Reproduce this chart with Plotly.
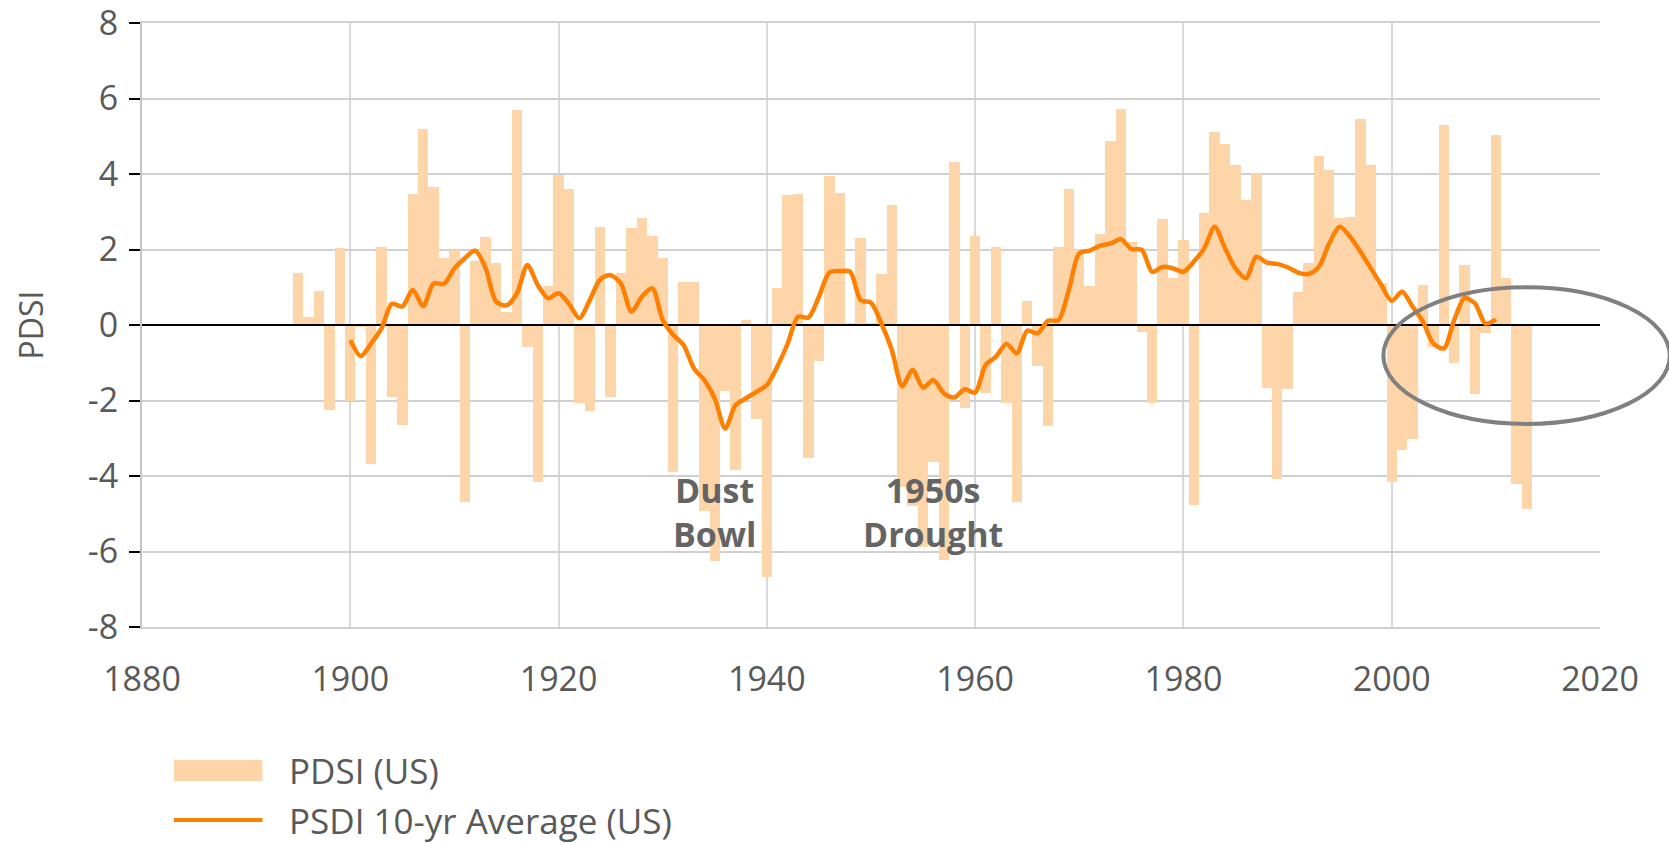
import plotly.graph_objects as go

# Anos e valores anuais do PDSI (EUA)
years = list(range(1895, 2014))
pdsi = [
    1.39, 0.21, 0.90, -2.24, 2.03,                                   # 1895-1899
    -2.00, -0.05, -3.67, 2.07, -1.92, -2.64, 3.47, 5.19, 3.65, 1.77,  # 1900s
    1.98, -4.70, 1.69, 2.34, 1.64, 0.35, 5.69, -0.57, -4.17, 1.03,    # 1910s
    3.97, 3.61, -2.07, -2.29, 2.59, -1.92, 1.39, 2.57, 2.84, 2.37,    # 1920s
    1.77, -3.90, 1.14, 1.14, -4.93, -6.24, -1.75, -3.85, 0.12, -2.50, # 1930s
    -6.68, 0.98, 3.44, 3.47, -3.51, -0.96, 3.95, 3.51, 0.05, 2.31,    # 1940s
    0.05, 1.36, 3.19, -4.30, -4.80, -5.88, -3.62, -6.22, 4.32, -2.19, # 1950s
    2.37, -1.79, 2.07, -2.07, -4.70, 0.64, -1.08, -2.67, 2.07, 3.60,  # 1960s
    2.00, 1.03, 2.42, 4.87, 5.72, 2.19, -0.18, -2.06, 2.81, 1.24,     # 1970s
    2.25, -4.78, 2.97, 5.11, 4.79, 4.24, 3.32, 4.02, -1.66, -4.09,    # 1980s
    -1.69, 0.87, 1.64, 4.49, 4.10, 2.84, 2.86, 5.45, 4.24, 1.10,      # 1990s
    -4.15, -3.31, -3.02, 1.06, -0.57, 5.30, -1.00, 1.59, -1.84, -0.20,# 2000s
    5.03, 1.24, -4.21, -4.87,                                        # 2010-2013
]

# Média móvel de 10 anos
avg_years = list(range(1900, 2011))
avg10 = [
    -0.40, -0.82, -0.49, -0.09, 0.56, 0.49, 0.93, 0.50, 1.10, 1.09,
    1.50, 1.77, 1.97, 1.50, 0.62, 0.52, 0.84, 1.59, 1.06, 0.71,
    0.84, 0.56, 0.18, 0.66, 1.21, 1.32, 1.09, 0.35, 0.75, 0.97,
    0.13, -0.26, -0.53, -1.15, -1.46, -1.95, -2.74, -2.12, -1.94, -1.77,
    -1.59, -1.10, -0.49, 0.22, 0.20, 0.75, 1.39, 1.43, 1.41, 0.66,
    0.59, 0.04, -0.66, -1.62, -1.19, -1.66, -1.46, -1.81, -1.92, -1.70,
    -1.79, -1.06, -0.84, -0.50, -0.75, -0.15, -0.22, 0.11, 0.13, 0.93,
    1.90, 1.97, 2.10, 2.16, 2.27, 2.01, 1.99, 1.41, 1.54, 1.50,
    1.41, 1.68, 2.03, 2.60, 2.03, 1.50, 1.24, 1.81, 1.65, 1.62,
    1.53, 1.39, 1.35, 1.54, 2.16, 2.60, 2.34, 1.94, 1.50, 1.06,
    0.64, 0.88, 0.49, 0.09, -0.49, -0.62, 0.13, 0.71, 0.57, 0.04,
    0.15,
]

x_range = [1880, 2020]
y_range = [-8, 8]
x_ticks = [1880, 1900, 1920, 1940, 1960, 1980, 2000, 2020]
y_ticks = [-8, -6, -4, -2, 0, 2, 4, 6, 8]
y_ticktext = ['-8', '-6', '-4', '-2', '0', '2', '4', '6', '8']

BAR_COLOR = '#FDD5A9'
LINE_COLOR = '#FF8000'
TEXT_COLOR = '#595959'
GRID_COLOR = '#d0d0d0'
FONT = 'Open Sans'

fig = go.Figure()

fig.add_trace(go.Bar(
    x=years, y=pdsi, width=1.0,
    marker=dict(color=BAR_COLOR, line=dict(width=0)),
    name='PDSI (US)', showlegend=False
))

# Linha do zero (acima das barras, abaixo da média)
fig.add_trace(go.Scatter(
    x=x_range, y=[0, 0], mode='lines',
    line=dict(color='black', width=2),
    showlegend=False, hoverinfo='skip'
))

fig.add_trace(go.Scatter(
    x=avg_years, y=avg10, mode='lines',
    line=dict(color=LINE_COLOR, width=4.5, shape='spline', smoothing=0.8),
    name='PSDI 10-yr Average (US)', showlegend=False
))

# Rótulos dos eventos
for label, yr in [('Dust<br>Bowl', 1935), ('1950s<br>Drought', 1956)]:
    fig.add_annotation(
        x=yr, y=-4.95, xref='x', yref='y', text=f'<b>{label}</b>',
        showarrow=False, font=dict(family=FONT, size=34, color='#646464')
    )


def to_paper(xv, yv):
    px = (xv - x_range[0]) / (x_range[1] - x_range[0])
    py = (yv - y_range[0]) / (y_range[1] - y_range[0])
    return px, py


# Elipse destacando os anos recentes
ex0, ey0 = to_paper(1999.2, -2.62)
ex1, ey1 = to_paper(2026.7, 1.0)
fig.add_shape(type='circle', xref='paper', yref='paper',
              x0=ex0, y0=ey0, x1=ex1, y1=ey1,
              line=dict(color='#808080', width=4), layer='above')

# Legenda manual
fig.add_shape(type='rect', xref='paper', yref='paper',
              x0=0.0219, x1=0.0826, y0=-0.255, y1=-0.220,
              fillcolor=BAR_COLOR, line=dict(width=0))
fig.add_shape(type='line', xref='paper', yref='paper',
              x0=0.0219, x1=0.0826, y0=-0.3197, y1=-0.3197,
              line=dict(color=LINE_COLOR, width=4))
for txt, yp in [('PDSI (US)', -0.2375), ('PSDI 10-yr Average (US)', -0.3197)]:
    fig.add_annotation(
        x=0.0997, y=yp, xref='paper', yref='paper', text=txt,
        xanchor='left', yanchor='middle', showarrow=False,
        font=dict(family=FONT, size=35, color=TEXT_COLOR)
    )

fig.update_layout(
    width=1669, height=843,
    paper_bgcolor='white', plot_bgcolor='white',
    margin=dict(l=142, r=69, t=23, b=216, autoexpand=False),
    font=dict(family=FONT, color=TEXT_COLOR),
    bargap=0, showlegend=False,
    xaxis=dict(
        range=x_range, tickvals=x_ticks, automargin=False,
        showgrid=True, gridcolor='#d9d9d9', gridwidth=2,
        zeroline=False,
        showline=True, mirror=True, linecolor=GRID_COLOR, linewidth=2,
        ticks='outside', ticklen=21, tickcolor='rgba(0,0,0,0)',
        tickfont=dict(family=FONT, size=34, color=TEXT_COLOR)
    ),
    yaxis=dict(
        range=y_range, tickvals=y_ticks, ticktext=y_ticktext, automargin=False,
        ticklabeloverflow='allow', ticklabelstandoff=4,
        showgrid=True, gridcolor=GRID_COLOR, gridwidth=2,
        zeroline=False,
        showline=True, linecolor='#c4c4c4', linewidth=2,
        ticks='outside', ticklen=11, tickwidth=2, tickcolor='black',
        tickfont=dict(family=FONT, size=34, color=TEXT_COLOR),
        title=dict(text='PDSI', standoff=35,
                   font=dict(family=FONT, size=32, color=TEXT_COLOR))
    ),
)

# sem margem no <body>, o gráfico ocupa a janela inteira
fig.write_html('out.html', config={'displayModeBar': False},
               post_script="document.body.style.margin='0px';")
